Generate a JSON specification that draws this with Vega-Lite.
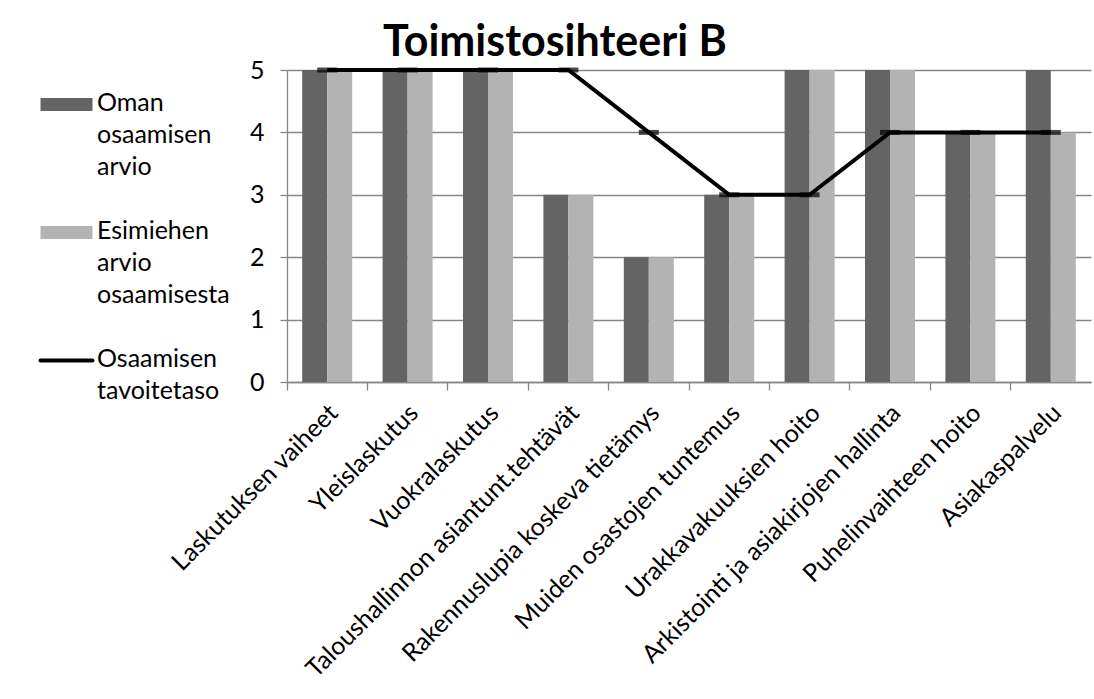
{
  "$schema": "https://vega.github.io/schema/vega-lite/v6.json",
  "width": 804,
  "height": 312,
  "autosize": {"type": "none"},
  "padding": {"left": 287, "top": 70, "right": 3, "bottom": 317},
  "background": "white",
  "config": {
    "view": {"stroke": null},
    "font": "Lato",
    "axis": {"labelFont": "Lato", "labelFontSize": 25, "labelColor": "#000000", "domainColor": "#868686", "domainWidth": 1.3, "tickColor": "#868686", "tickWidth": 1.3}
  },
  "title": {
    "text": "Toimistosihteeri B",
    "font": "Lato",
    "fontSize": 43,
    "fontWeight": "bold",
    "color": "#000000",
    "anchor": "middle",
    "dx": -134,
    "dy": 49,
    "offset": 8,
    "baseline": "alphabetic"
  },
  "data": {
    "values": [
      {"kategoria": "Laskutuksen vaiheet", "sarja": "Oman osaamisen arvio", "arvo": 5},
      {"kategoria": "Laskutuksen vaiheet", "sarja": "Esimiehen arvio osaamisesta", "arvo": 5},
      {"kategoria": "Laskutuksen vaiheet", "sarja": "Osaamisen tavoitetaso", "arvo": 5},
      {"kategoria": "Yleislaskutus", "sarja": "Oman osaamisen arvio", "arvo": 5},
      {"kategoria": "Yleislaskutus", "sarja": "Esimiehen arvio osaamisesta", "arvo": 5},
      {"kategoria": "Yleislaskutus", "sarja": "Osaamisen tavoitetaso", "arvo": 5},
      {"kategoria": "Vuokralaskutus", "sarja": "Oman osaamisen arvio", "arvo": 5},
      {"kategoria": "Vuokralaskutus", "sarja": "Esimiehen arvio osaamisesta", "arvo": 5},
      {"kategoria": "Vuokralaskutus", "sarja": "Osaamisen tavoitetaso", "arvo": 5},
      {"kategoria": "Taloushallinnon asiantunt.tehtävät", "sarja": "Oman osaamisen arvio", "arvo": 3},
      {"kategoria": "Taloushallinnon asiantunt.tehtävät", "sarja": "Esimiehen arvio osaamisesta", "arvo": 3},
      {"kategoria": "Taloushallinnon asiantunt.tehtävät", "sarja": "Osaamisen tavoitetaso", "arvo": 5},
      {"kategoria": "Rakennuslupia koskeva tietämys", "sarja": "Oman osaamisen arvio", "arvo": 2},
      {"kategoria": "Rakennuslupia koskeva tietämys", "sarja": "Esimiehen arvio osaamisesta", "arvo": 2},
      {"kategoria": "Rakennuslupia koskeva tietämys", "sarja": "Osaamisen tavoitetaso", "arvo": 4},
      {"kategoria": "Muiden osastojen tuntemus", "sarja": "Oman osaamisen arvio", "arvo": 3},
      {"kategoria": "Muiden osastojen tuntemus", "sarja": "Esimiehen arvio osaamisesta", "arvo": 3},
      {"kategoria": "Muiden osastojen tuntemus", "sarja": "Osaamisen tavoitetaso", "arvo": 3},
      {"kategoria": "Urakkavakuuksien hoito", "sarja": "Oman osaamisen arvio", "arvo": 5},
      {"kategoria": "Urakkavakuuksien hoito", "sarja": "Esimiehen arvio osaamisesta", "arvo": 5},
      {"kategoria": "Urakkavakuuksien hoito", "sarja": "Osaamisen tavoitetaso", "arvo": 3},
      {"kategoria": "Arkistointi ja asiakirjojen hallinta", "sarja": "Oman osaamisen arvio", "arvo": 5},
      {"kategoria": "Arkistointi ja asiakirjojen hallinta", "sarja": "Esimiehen arvio osaamisesta", "arvo": 5},
      {"kategoria": "Arkistointi ja asiakirjojen hallinta", "sarja": "Osaamisen tavoitetaso", "arvo": 4},
      {"kategoria": "Puhelinvaihteen hoito", "sarja": "Oman osaamisen arvio", "arvo": 4},
      {"kategoria": "Puhelinvaihteen hoito", "sarja": "Esimiehen arvio osaamisesta", "arvo": 4},
      {"kategoria": "Puhelinvaihteen hoito", "sarja": "Osaamisen tavoitetaso", "arvo": 4},
      {"kategoria": "Asiakaspalvelu", "sarja": "Oman osaamisen arvio", "arvo": 5},
      {"kategoria": "Asiakaspalvelu", "sarja": "Esimiehen arvio osaamisesta", "arvo": 4},
      {"kategoria": "Asiakaspalvelu", "sarja": "Osaamisen tavoitetaso", "arvo": 4}
    ]
  },
  "encoding": {
    "x": {
      "field": "kategoria",
      "type": "nominal",
      "sort": null,
      "scale": {"paddingInner": 0, "paddingOuter": 0},
      "axis": {
        "title": null,
        "labelAngle": -45,
        "labelAlign": "right",
        "labelBaseline": "top",
        "bandPosition": 0,
        "labelOffset": -2,
        "tickSize": 8,
        "labelPadding": 10,
        "labelLimit": 600
      }
    },
    "y": {
      "field": "arvo",
      "type": "quantitative",
      "scale": {"domain": [0, 5], "nice": false, "zero": true},
      "axis": {
        "title": null,
        "values": [0, 1, 2, 3, 4, 5],
        "grid": true,
        "gridColor": "#868686",
        "gridWidth": 1.3,
        "tickSize": 7,
        "labelPadding": 16
      }
    }
  },
  "layer": [
    {
      "transform": [{"filter": "datum.sarja !== 'Osaamisen tavoitetaso'"}],
      "mark": {"type": "bar"},
      "encoding": {
        "xOffset": {
          "field": "sarja",
          "type": "nominal",
          "sort": ["Oman osaamisen arvio", "Esimiehen arvio osaamisesta"],
          "scale": {"paddingInner": 0, "paddingOuter": 0.608}
        },
        "color": {
          "field": "sarja",
          "type": "nominal",
          "scale": {
            "domain": ["Oman osaamisen arvio", "Esimiehen arvio osaamisesta", "Osaamisen tavoitetaso"],
            "range": ["#646464", "#b3b3b3", "#000000"]
          },
          "legend": {
            "title": null,
            "orient": "none",
            "legendX": -233,
            "legendY": 22,
            "symbolSize": 2704,
            "labelExpr": "split(datum.label, ' ')",
            "labelFont": "Lato",
            "labelFontSize": 25,
            "labelColor": "#000000",
            "labelBaseline": "top",
            "labelOffset": 18,
            "labelLimit": 300,
            "rowPadding": 38,
            "encode": {
              "symbols": {
                "update": {
                  "shape": {"signal": "datum.value === 'Osaamisen tavoitetaso' ? 'stroke' : 'M-1,-0.25H1V0.25H-1Z'"},
                  "strokeWidth": {"signal": "datum.value === 'Osaamisen tavoitetaso' ? 4 : 0"},
                  "stroke": {"scale": "color", "field": "value"},
                  "fill": {"scale": "color", "field": "value"},
                  "strokeCap": {"value": "round"},
                  "opacity": {"value": 1}
                }
              },
              "labels": {
                "update": {"lineHeight": {"value": 32}, "dy": {"value": -14}}
              }
            }
          }
        }
      }
    },
    {
      "transform": [{"filter": "datum.sarja === 'Osaamisen tavoitetaso'"}],
      "mark": {"type": "line", "strokeWidth": 4, "strokeJoin": "miter"},
      "encoding": {
        "color": {"field": "sarja", "type": "nominal"}
      }
    },
    {
      "transform": [{"filter": "datum.sarja === 'Osaamisen tavoitetaso'"}],
      "mark": {"type": "tick", "thickness": 5, "size": 20, "color": "#000000"},
      "encoding": {}
    }
  ]
}
